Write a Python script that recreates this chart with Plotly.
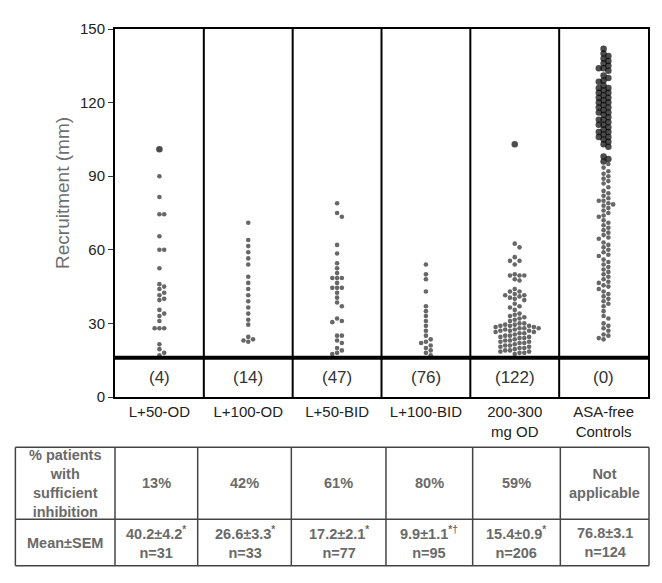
"""Recruitment dot plot by aspirin regimen, with summary table underneath."""

import plotly.graph_objects as go

GROUPS = ["L+50-OD", "L+100-OD", "L+50-BID", "L+100-BID",
          "200-300<br>mg OD", "ASA-free<br>Controls"]
BELOW_CUTOFF = ["(4)", "(14)", "(47)", "(76)", "(122)", "(0)"]
PCT_SUFFICIENT = ["13%", "42%", "61%", "80%", "59%", "Not<br>applicable"]
MEAN_SEM = [
    "40.2±4.2<sup>*</sup><br>n=31",
    "26.6±3.3<sup>*</sup><br>n=33",
    "17.2±2.1<sup>*</sup><br>n=77",
    "9.9±1.1<sup>*†</sup><br>n=95",
    "15.4±0.9<sup>*</sup><br>n=206",
    "76.8±3.1<br>n=124",
]
ROW_LABELS = ["% patients<br>with<br>sufficient<br>inhibition", "Mean±SEM"]
CUTOFF = 16

l50_od = [101, 90, 81.5, 74.5, 74.5, 65.5, 60, 60, 52.5, 46, 45, 44, 42.5,
          41.5, 40, 39.5, 35.5, 34, 33, 31, 28, 28, 28, 21.5, 19.5, 18, 17]
l100_od = [71, 64, 61.5, 59, 56.5, 54, 49, 46.5, 44, 41.5, 39, 36.5, 34,
           31.5, 29.5, 24.5, 23.5, 23, 22.5]
l50_bid = [79, 75, 73.5, 62, 58.5, 54.5, 52.5, 50.5, 48.5, 48.5, 48.5, 46.5,
           44.5, 44.5, 44.5, 42.5, 40.5, 38.5, 37, 32, 31, 30.5, 25, 25, 23,
           22, 20, 19, 18, 17.5]
l100_bid = [54, 50, 48, 43, 37, 35, 33, 31, 29, 27, 25, 23.5, 22.5, 22, 21,
            20, 19, 18, 17]
asa_200_300 = [103, 62.5, 61, 57, 55.5, 55.5, 54, 50, 49.5, 49.5, 49.5, 48,
               47.5, 44, 43, 43, 42, 41.5, 41.5, 41, 40.5, 40, 39.5, 38, 37,
               36.5, 35.5, 34, 33.5, 33, 32.5, 32, 31.5, 31, 30, 30, 29.5,
               29.5, 29, 29, 29, 28.5, 28.5, 28, 28, 28, 27.5, 27.5, 27, 27,
               27, 26.5, 26.5, 26, 26, 25.5, 25, 25, 24.5, 24.5, 24, 24, 23.5,
               23, 23, 22.5, 22.5, 22, 22, 21.5, 21, 21, 20.5, 20.5, 20, 20,
               19.5, 19, 19, 18.5, 18.5, 18, 18, 17.5]
controls = [142, 140, 139, 138, 137, 136, 135, 134, 134, 133, 131, 130, 129,
            128.5, 127, 126, 126, 125, 124, 124, 123, 122, 122, 121, 120, 120,
            119, 118, 118, 117, 116, 116, 115, 114, 113, 113, 112, 111, 111,
            110, 109, 108, 108, 107, 106, 106, 105, 104, 103, 102,
            98, 97, 96, 95, 93.5, 92, 91, 90, 89, 88, 87, 85.5, 84, 83, 82,
            81, 80, 80, 79, 78.5, 78, 77, 76, 75, 74, 73.5, 72, 71, 70, 69,
            68, 67, 66, 65, 64.5, 63, 62, 61, 60, 59, 58, 57.5, 56, 55, 54,
            53, 52, 51, 50, 49, 48, 47, 46.5, 45.5, 45, 44, 43, 42, 41, 40,
            39, 38, 37, 35, 33, 32, 30, 29, 28, 27, 25.5, 25, 24, 23.5]

SERIES = [l50_od, l100_od, l50_bid, l100_bid, asa_200_300, controls]

# the page body has an 8px margin, so the figure itself is 8px smaller
PAGE_PAD = 8
FIG_W, FIG_H = 662 - PAGE_PAD, 583 - PAGE_PAD
# plot area in page pixels (used for swarm spacing and the table)
LEFT, RIGHT, TOP, BOTTOM = 115, 650, 24, 397
Y_PX = (BOTTOM - TOP) / 150
X_PX = (RIGHT - LEFT) / len(GROUPS)
FONT = "Liberation Sans, Arial, sans-serif"


def swarm_offsets(values, gap=4.8):
    """Deterministic beeswarm: nudge points sideways until they don't overlap."""
    order = sorted(range(len(values)), key=lambda i: -values[i])
    placed = []
    offsets = [0.0] * len(values)
    for i in order:
        y = values[i] * Y_PX
        step = 0
        spot = None
        while spot is None:
            cands = [0.0] if step == 0 else [step * gap / 2, -step * gap / 2]
            for c in cands:
                if all((c - px) ** 2 + (y - py) ** 2 >= gap ** 2 for px, py in placed):
                    spot = c
                    break
            step += 1
        placed.append((spot, y))
        offsets[i] = spot / X_PX
    return offsets


def px_x(px):
    return (px - LEFT) / (RIGHT - LEFT)


def px_y(py):
    return (BOTTOM - py) / (BOTTOM - TOP)


fig = go.Figure()

for idx, values in enumerate(SERIES):
    offs = swarm_offsets(values)
    fig.add_trace(go.Scatter(
        x=[idx + o for o in offs],
        y=values,
        mode="markers",
        marker=dict(
            color=["#000000" if v > 95 else "#262626" for v in values],
            size=[6.5 if v > 95 else 4.6 for v in values],
            line=dict(width=0),
        ),
        showlegend=False,
        hoverinfo="y",
    ))

# group dividers and the cut-off line
for i in range(1, len(GROUPS)):
    fig.add_shape(type="line", xref="x", yref="y", x0=i - 0.5, x1=i - 0.5,
                  y0=0, y1=150, line=dict(color="black", width=2))
fig.add_shape(type="line", xref="x", yref="y", x0=-0.5, x1=len(GROUPS) - 0.5,
              y0=CUTOFF, y1=CUTOFF, line=dict(color="black", width=4))

for idx, label in enumerate(BELOW_CUTOFF):
    fig.add_annotation(x=idx, y=CUTOFF / 2, text=label, showarrow=False,
                       font=dict(family=FONT, size=17, color="#333"))

fig.add_annotation(xref="paper", yref="paper", x=px_x(63), y=px_y(190),
                   xanchor="center", yanchor="middle",
                   text="Recruitment (mm)", textangle=-90, showarrow=False,
                   font=dict(family=FONT, size=19, color="#6e6e6e"))

# summary table below the chart
col_edges = [15, 115, 198, 292, 387, 474, 562, 651]
row_edges = [448, 521, 568]
grid = dict(color="#444", width=1.5)
for px in col_edges:
    fig.add_shape(type="line", xref="paper", yref="paper", x0=px_x(px), x1=px_x(px),
                  y0=px_y(row_edges[0]), y1=px_y(row_edges[-1]), line=grid)
for py in row_edges:
    fig.add_shape(type="line", xref="paper", yref="paper", x0=px_x(col_edges[0]),
                  x1=px_x(col_edges[-1]), y0=px_y(py), y1=px_y(py), line=grid)

table_rows = [[ROW_LABELS[0]] + PCT_SUFFICIENT, [ROW_LABELS[1]] + MEAN_SEM]
cell_font = dict(family=FONT, size=14.5, color="#6a6a6a")
for r, row in enumerate(table_rows):
    yc = (row_edges[r] + row_edges[r + 1]) / 2
    for c, text in enumerate(row):
        xc = (col_edges[c] + col_edges[c + 1]) / 2
        fig.add_annotation(xref="paper", yref="paper", x=px_x(xc), y=px_y(yc),
                           xanchor="center", yanchor="middle",
                           text=f"<b>{text}</b>", showarrow=False,
                           font=cell_font, align="center")

fig.update_xaxes(
    range=[-0.5, len(GROUPS) - 0.5],
    tickvals=list(range(len(GROUPS))),
    ticktext=GROUPS,
    tickfont=dict(family=FONT, size=15, color="#222"),
    showline=True, linecolor="black", linewidth=2, mirror=True,
    showgrid=False, zeroline=False, ticks="",
)
fig.update_yaxes(
    range=[0, 150],
    tickvals=[0, 30, 60, 90, 120, 150],
    tickfont=dict(family=FONT, size=15, color="#222"),
    ticks="outside", ticklen=5, tickcolor="#333",
    showline=True, linecolor="black", linewidth=2, mirror=True,
    showgrid=False, zeroline=False,
)
fig.update_layout(
    width=FIG_W, height=FIG_H,
    margin=dict(l=LEFT - PAGE_PAD, r=662 - RIGHT, t=TOP - PAGE_PAD,
                b=583 - BOTTOM),
    plot_bgcolor="white", paper_bgcolor="white",
    font=dict(family=FONT),
)

fig.write_html("out.html")
